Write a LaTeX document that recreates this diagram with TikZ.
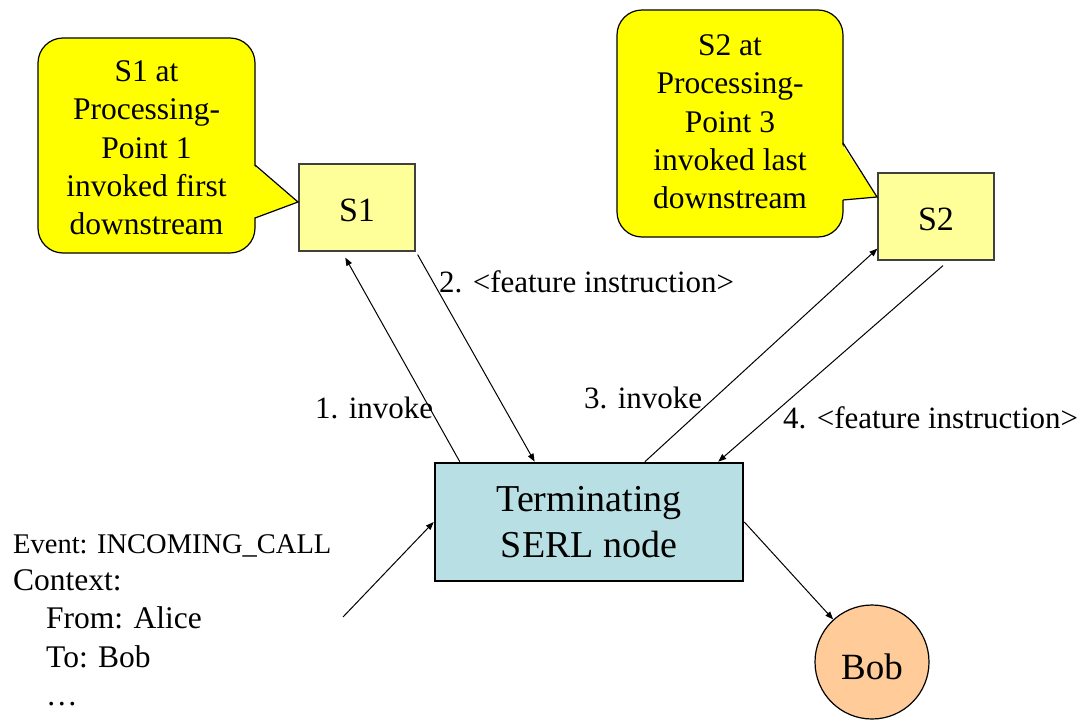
\documentclass[tikz,border=0pt]{standalone}
\usepackage{fontspec}
\setmainfont{Liberation Serif}
\usetikzlibrary{arrows.meta,calc}

\definecolor{calloutyellow}{HTML}{FFFF00}
\definecolor{serverfill}{HTML}{FFFF99}
\definecolor{serverline}{HTML}{404040}
\definecolor{serlfill}{HTML}{B8DFE3}
\definecolor{bobfill}{HTML}{FFCC99}

\tikzset{
  msg/.style={line width=1pt,-{Triangle[length=8pt,width=6pt]}},
  serverbox/.style={draw=serverline,line width=1.2pt,fill=serverfill,
    minimum width=116pt,minimum height=87pt,inner sep=0pt,
    text height=28pt,text depth=0pt,
    font=\fontsize{34}{40}\selectfont},
  serlbox/.style={draw=black,line width=2.6pt,fill=serlfill,
    minimum width=308pt,minimum height=118pt,inner sep=0pt,align=center,
    font=\fontsize{38}{46}\selectfont},
  usercircle/.style={circle,draw=black,line width=1.2pt,fill=bobfill,
    minimum size=114pt,inner sep=0pt,text height=34pt,text depth=0pt,
    font=\fontsize{37}{44}\selectfont},
  calloutbody/.style={fill=calloutyellow,draw=black,line width=1.2pt},
  callouttext/.style={align=center,inner sep=0pt,
    font=\fontsize{31.5}{38.3}\selectfont},
  lbl/.style={inner sep=0pt,font=\fontsize{31}{37}\selectfont},
  ctxtext/.style={inner sep=0pt,anchor=base west,font=\fontsize{31.5}{38}\selectfont},
}

\begin{document}
\begin{tikzpicture}[x=1pt,y=-1pt]
  \useasboundingbox (0,0) rectangle (1083,720);

  % --- servers and nodes ---
  \node[serverbox] (s1) at (357,207.5) {S1};
  \node[serverbox] (s2) at (936,216.5) {S2};
  \node[serlbox] (serl) at (589,522) {Terminating\\SERL node};
  \node[usercircle] (bob) at (872,662) {Bob};

  % --- callout for S1 ---
  \coordinate (c1tip) at (298,202);
  \draw[calloutbody,rounded corners=25pt] (38,38) rectangle (255,253);
  \fill[calloutyellow] (c1tip) -- (253,165) -- (253,218) -- cycle;
  \draw[line width=1.2pt,line join=miter] (255,165) -- (c1tip) -- (255,218);
  \node[callouttext] (c1text) at (146.5,148) {S1 at\\Processing-\\Point 1\\invoked first\\downstream};

  % --- callout for S2 ---
  \coordinate (c2tip) at (877,197);
  \draw[calloutbody,rounded corners=25pt] (617,10) rectangle (843,237);
  \fill[calloutyellow] (c2tip) -- (841,143) -- (841,200) -- cycle;
  \draw[line width=1.2pt,line join=miter] (843,143) -- (c2tip) -- (843,200);
  \node[callouttext] (c2text) at (730,122) {S2 at\\Processing-\\Point 3\\invoked last\\downstream};

  % --- message flow ---
  \draw[msg] ($(serl.north west)!0.084!(serl.north east)$) -- ($(s1.south west)!0.40!(s1.south east)+(0,6)$);
  \draw[msg] ($(s1.south east)+(2,3)$) -- ($(serl.north west)!0.325!(serl.north east)$);
  \draw[msg] ($(serl.north west)!0.68!(serl.north east)$) -- ($(s2.south west)+(0,-12)$);
  \draw[msg] ($(s2.south)+(7,5)$) -- ($(serl.north west)!0.916!(serl.north east)$);
  \coordinate (evsrc) at (343,617);
  \draw[msg] (evsrc) -- (serl.west);
  \draw[msg] (serl.east) -- (bob);

  % --- message labels ---
  \node[lbl,anchor=base west] (l1) at (315,418) {1. invoke};
  \node[lbl,anchor=base west] (l2) at (439,292) {2. <feature instruction>};
  \node[lbl,anchor=base west] (l3) at (584,408) {3. invoke};
  \node[lbl,anchor=base west] (l4) at (783,428) {4. <feature instruction>};

  % --- incoming event description ---
  \node[ctxtext,font=\fontsize{28.5}{34}\selectfont] (ev) at (13,553) {Event: INCOMING\_CALL};
  \node[ctxtext] (ctx) at (13,590) {Context:};
  \node[ctxtext] (from) at (46,628) {From: Alice};
  \node[ctxtext] (to) at (46,667) {To: Bob};
  \node[ctxtext] (more) at (46,705) {\dots};
\end{tikzpicture}
\end{document}
